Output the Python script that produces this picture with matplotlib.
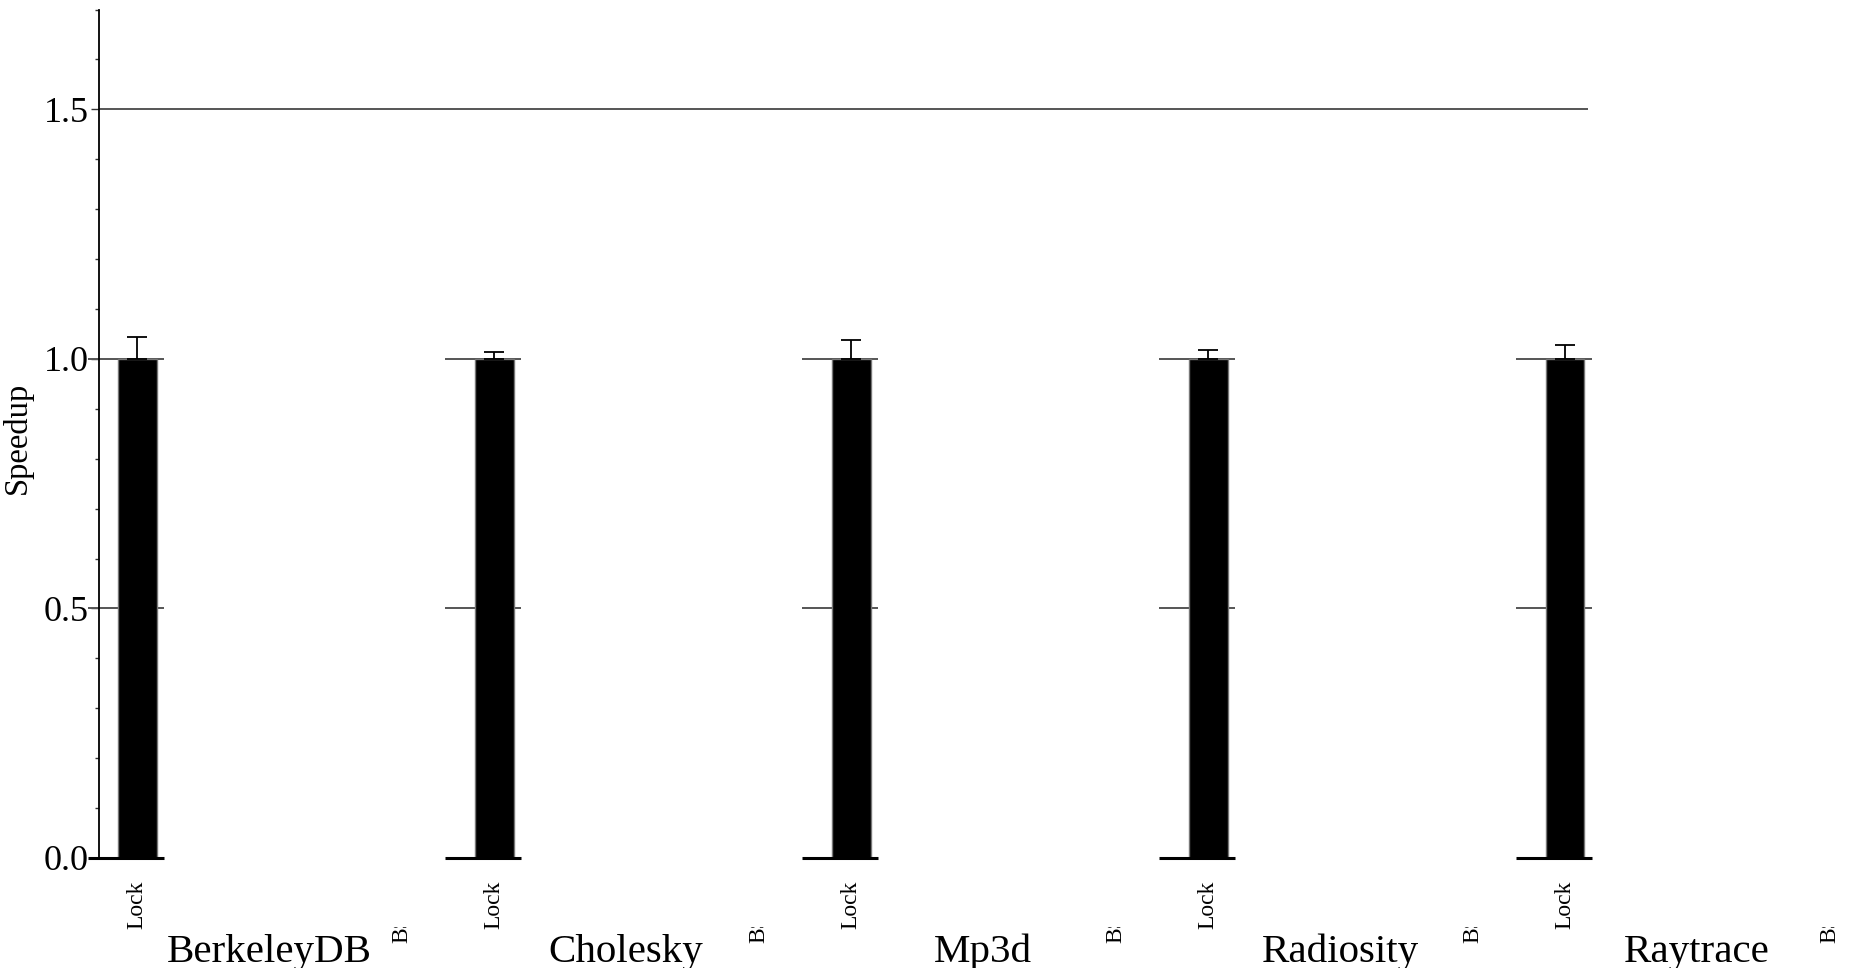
import numpy as np
import matplotlib
matplotlib.use("Agg")
import matplotlib.pyplot as plt
from matplotlib.transforms import Bbox, blended_transform_factory

# data
benchmarks = ["BerkeleyDB", "Cholesky", "Mp3d", "Radiosity", "Raytrace"]
bar_label = "Lock"
speedup = [1.0, 1.0, 1.0, 1.0, 1.0]
err_up = [0.044, 0.013, 0.038, 0.017, 0.027]
# second (clipped) label in every group
clipped_label = "BS"

plt.rcParams['font.family'] = ['Liberation Serif', 'DejaVu Serif']

W, H = 1855, 968
fig = plt.figure(figsize=(W / 100, H / 100), dpi=100)

# axes geometry in pixels
ax_left, ax_bottom, ax_top = 99, H - 858, H - 9.5
ax = fig.add_axes([ax_left / W, ax_bottom / H, (W - ax_left) / W, (ax_top - ax_bottom) / H])

px = 357.0  # pixels per group
x0 = (137 - ax_left) / px
ax.set_xlim(-x0, -x0 + (W - ax_left) / px)
ax.set_ylim(0, 1.7)

x = np.arange(len(benchmarks))
bw = 39 / px

ax.bar(x, speedup, width=bw, color="black", edgecolor="#777777", linewidth=1.0, zorder=3)
ax.errorbar(x, speedup, yerr=[np.zeros(len(x)), err_up], fmt="none", ecolor="black",
            elinewidth=1.3, capsize=7, capthick=1.3, zorder=4)

# per-group reference segments
seg_l, seg_r = -49 / px, 27 / px
for xi in x:
    ax.hlines([0.5, 1.0], xi + seg_l, xi + seg_r, color="#555555", linewidth=1.4, zorder=2, clip_on=False)
    ax.hlines(0.0, xi + seg_l, xi + seg_r, color="black", linewidth=2.2, zorder=5, clip_on=False)
ax.hlines(1.5, -x0, x[-1] + 23 / px, color="#555555", linewidth=1.4, zorder=2)

for s in ["top", "right", "bottom"]:
    ax.spines[s].set_visible(False)
ax.spines["left"].set_linewidth(1.3)

ax.set_yticks([0.0, 0.5, 1.0, 1.5])
ax.set_yticklabels(["0.0", "0.5", "1.0", "1.5"], fontsize=26)
ax.set_yticks(np.arange(0, 1.71, 0.1), minor=True)
ax.tick_params(axis="y", which="major", length=5.8, width=1.0, pad=1.5, color="#333333")
ax.tick_params(axis="y", which="minor", length=3.0, width=1.0, color="#333333")

ax.set_xticks(x)
ax.set_xticklabels([bar_label] * len(x), rotation=90, fontsize=17)
ax.tick_params(axis="x", length=0, pad=16.5)

trans = blended_transform_factory(ax.transData, fig.transFigure)
clip = Bbox([[0, 0], [W, H - 927]])
for xi, name in zip(x, benchmarks):
    ax.text(xi + 132 / px, (H - 962) / H, name, transform=trans, ha="center",
            va="baseline", fontsize=29.5, clip_on=False)
    t = ax.text(xi + 265 / px, (H - 943) / H, clipped_label, transform=trans, ha="center",
                va="bottom", rotation=90, fontsize=17)
    t.set_clip_on(True)
    t.set_clip_box(clip)

fig.text(17 / W, 1 - 438 / H, "Speedup", rotation=90, ha="center", va="center", fontsize=23.5)

fig.savefig("out.png", dpi=100)
